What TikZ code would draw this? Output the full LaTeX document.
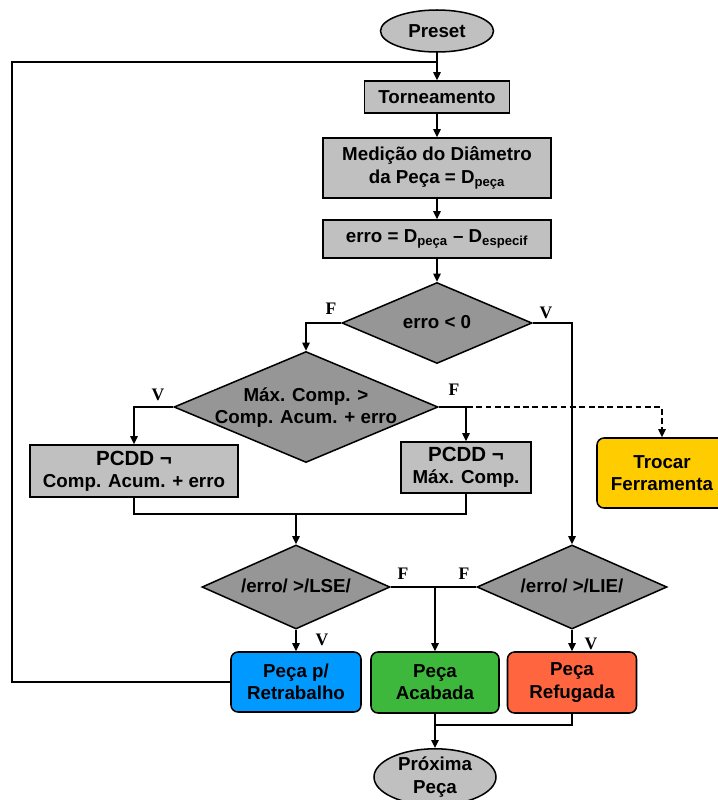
\documentclass[tikz,border=0pt]{standalone}
\usepackage{fontspec}
\setmainfont{Liberation Sans}
\newfontfamily\lblfont{Liberation Serif}
\usetikzlibrary{arrows.meta,shapes.geometric}
\definecolor{boxgray}{HTML}{C0C0C0}
\definecolor{diagray}{HTML}{969696}
\definecolor{retblue}{HTML}{0099FF}
\definecolor{acagreen}{HTML}{3DB83D}
\definecolor{refred}{HTML}{FF6640}
\definecolor{trocyellow}{HTML}{FFCC00}
% text of a decision, kept out of the diamond's size
\newcommand\dectext[1]{\makebox[0pt]{\raisebox{-5.5pt}[0pt][0pt]{\begin{tabular}{@{}c@{}}#1\end{tabular}}}}
\newcommand\bigline[1]{{\fontsize{17.5}{20}\selectfont #1}}
\tikzset{
  base/.style={draw,line width=1.3pt,align=center,inner sep=1pt,
    font=\fontsize{16}{19}\selectfont\bfseries},
  procbox/.style={base,rectangle,fill=boxgray},
  decbox/.style={base,diamond,fill=diagray,inner sep=0pt},
  termbox/.style={base,ellipse,fill=boxgray,inner sep=0pt},
  endbox/.style={base,rectangle,rounded corners=6pt},
  arr/.style={line width=1.2pt,-{Triangle[length=2.4mm,width=2.2mm]}},
  line/.style={line width=1.2pt},
  lbl/.style={font=\lblfont\fontsize{15}{18}\selectfont\bfseries,inner sep=0pt}
}
\begin{document}
\begin{tikzpicture}[x=0.03cm,y=-0.03cm]
\useasboundingbox (0,0) rectangle (718,800);
\node[termbox,minimum width=3.39cm,minimum height=1.26cm] (pre) at (437,31) {Preset};
\node[procbox,minimum width=4.35cm,minimum height=0.96cm] (torn) at (437,97) {Torneamento};
\node[procbox,minimum width=6.84cm,minimum height=1.8cm] (med) at (437,168) {Medição do Diâmetro\\da Peça = D\textsubscript{peça}};
\node[procbox,minimum width=6.84cm,minimum height=1.14cm] (erro) at (437,239) {erro = D\textsubscript{peça} -- D\textsubscript{especif}};
\node[decbox,minimum width=5.7cm,minimum height=2.43cm] (d1) at (437,323) {\dectext{erro < 0}};
\node[decbox,minimum width=7.92cm,minimum height=3.33cm] (d2) at (306,407) {\dectext{Máx. Comp. >\\Comp. Acum. + erro}};
\node[procbox,minimum width=6.24cm,minimum height=1.56cm] (pc1) at (134,471) {\bigline{PCDD ¬}\\Comp. Acum. + erro};
\node[procbox,minimum width=3.9cm,minimum height=1.53cm] (pc2) at (466,467.5) {\bigline{PCDD ¬}\\Máx. Comp.};
\node[endbox,fill=trocyellow,minimum width=3.9cm,minimum height=2.1cm] (troc) at (662,473) {Trocar\\Ferramenta};
\node[decbox,minimum width=5.64cm,minimum height=2.52cm] (lse) at (296,587) {\dectext{/erro/ >/LSE/}};
\node[decbox,minimum width=5.7cm,minimum height=2.52cm] (lie) at (572,587) {\dectext{/erro/ >/LIE/}};
\node[endbox,fill=retblue,minimum width=3.9cm,minimum height=1.8cm] (ret) at (296,682) {Peça p/\\Retrabalho};
\node[endbox,fill=acagreen,minimum width=3.84cm,minimum height=1.83cm] (aca) at (435,682.5) {Peça\\Acabada};
\node[endbox,fill=refred,minimum width=3.87cm,minimum height=1.83cm] (ref) at (572,682.5) {Peça\\Refugada};
\node[termbox,minimum width=3.66cm,minimum height=1.5cm] (prox) at (435,777) {Próxima\\Peça};
% junctions
\coordinate (jtop) at (437,62);
\coordinate (jleft) at (12,62);
\coordinate (jmid) at (296,514);
\coordinate (jf) at (435,587);
\coordinate (jbot) at (435,725);
% connectors
\draw[arr] (pre) -- (torn);
\draw[line] (ret.west) -| (jleft) -- (jtop);
\draw[arr] (torn) -- (med);
\draw[arr] (med) -- (erro);
\draw[arr] (erro) -- (d1);
\draw[arr] (d1.west) -| (d2.north);
\draw[arr] (d1.east) -| (lie.north);
\draw[arr] (d2.west) -| (pc1.north);
\draw[arr] (d2.east) -| (pc2.north);
\draw[arr,dash pattern=on 5pt off 3pt] (d2.east) -| (troc.north);
\draw[line] (pc1.south) |- (jmid);
\draw[line] (pc2.south) |- (jmid);
\draw[arr] (jmid) -- (lse.north);
\draw[line] (lse.east) -- (lie.west);
\draw[arr] (jf) -- (aca.north);
\draw[arr] (lse.south) -- (ret.north);
\draw[arr] (lie.south) -- (ref.north);
\draw[arr] (aca.south) -- (prox.north);
\draw[line] (ref.south) |- (jbot);
% labels
\node[lbl] (l1) at (331,309) {F};
\node[lbl] (l2) at (546,313) {V};
\node[lbl] (l3) at (158,395) {V};
\node[lbl] (l4) at (454,390) {F};
\node[lbl] (l5) at (403,574) {F};
\node[lbl] (l6) at (464,574) {F};
\node[lbl] (l7) at (322,640) {V};
\node[lbl] (l8) at (591,644) {V};
\end{tikzpicture}
\end{document}
